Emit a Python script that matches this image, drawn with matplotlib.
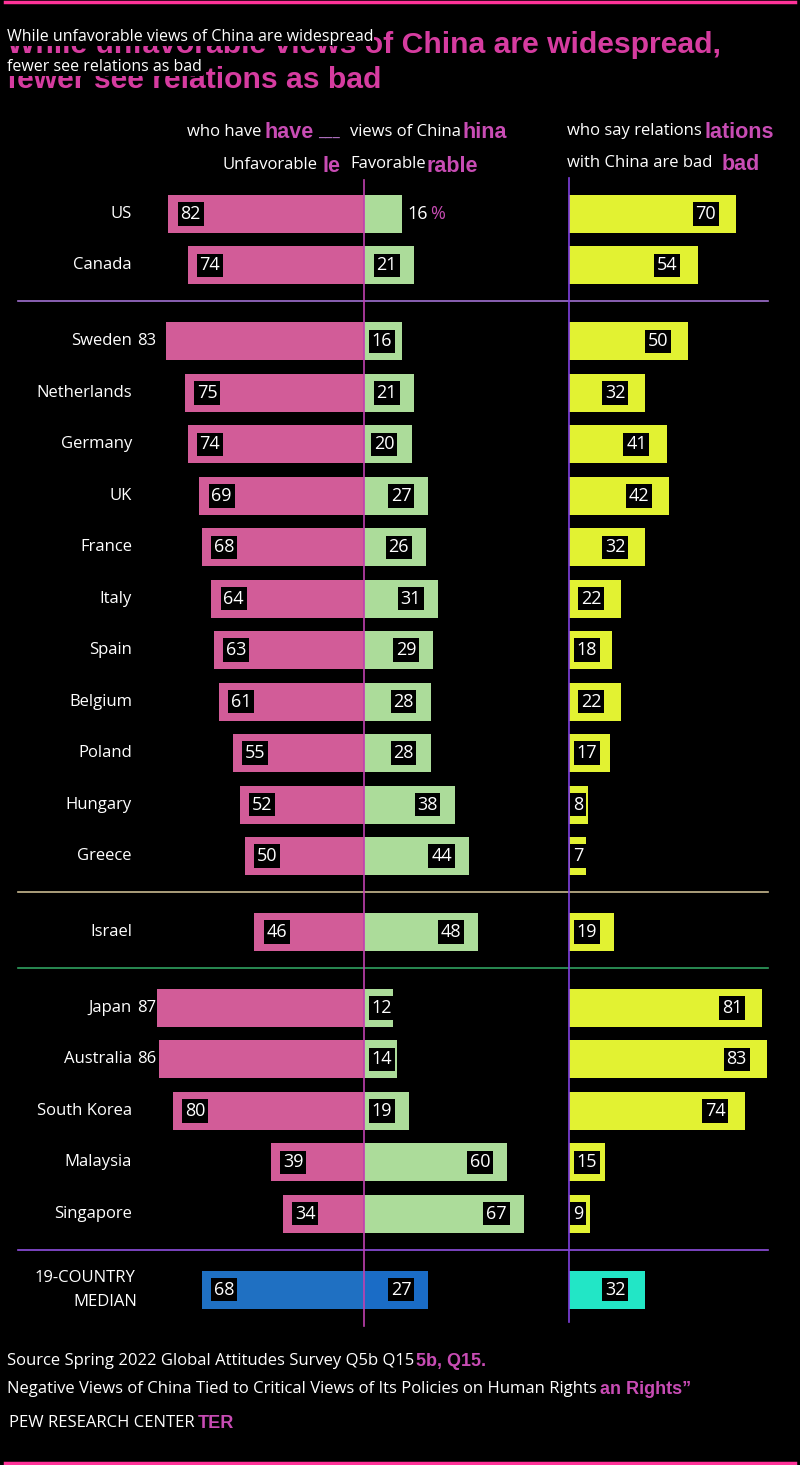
import matplotlib
matplotlib.use("Agg")
import matplotlib.pyplot as plt
from matplotlib import font_manager

# ---------------- data ----------------
countries = ["US", "Canada", "Sweden", "Netherlands", "Germany", "UK", "France",
             "Italy", "Spain", "Belgium", "Poland", "Hungary", "Greece", "Israel",
             "Japan", "Australia", "South Korea", "Malaysia", "Singapore"]
unfavorable = [82, 74, 83, 75, 74, 69, 68, 64, 63, 61, 55, 52, 50, 46, 87, 86, 80, 39, 34]
favorable = [16, 21, 16, 21, 20, 27, 26, 31, 29, 28, 28, 38, 44, 48, 12, 14, 19, 60, 67]
relations_bad = [70, 54, 50, 32, 41, 42, 32, 22, 18, 22, 17, 8, 7, 19, 81, 83, 74, 15, 9]
group_sizes = [2, 11, 1, 5]
median_label = ["19-COUNTRY", "MEDIAN"]
median_unfav = 68
median_fav = 27
median_rel = 32

title_lines = ["While unfavorable views of China are widespread,", "fewer see relations as bad"]
header_left = ["who have", "___", "views of China"]
header_unfav = "Unfavorable"
header_fav = "Favorable"
header_right = ["who say relations", "with China are bad"]
footer = ["Source Spring 2022 Global Attitudes Survey Q5b Q15",
          "Negative Views of China Tied to Critical Views of Its Policies on Human Rights",
          "PEW RESEARCH CENTER"]
ghost_texts = ["have", "hina", "le", "rable", "lations", "bad", "5b, Q15.", "an Rights\u201d", "TER"]

# ---------------- style ----------------
avail = {f.name for f in font_manager.fontManager.ttflist}
fam = [f for f in ["Open Sans", "DejaVu Sans"] if f in avail] + ["DejaVu Sans"]
plt.rcParams["font.family"] = fam
BOLD = ["Liberation Sans", "DejaVu Sans"]

W, H = 800, 1465
BG = "black"
C_UNF = "#d25c98"
C_FAV = "#acdc9a"
C_REL = "#e2f232"
C_MED_UNF = "#1f70c2"
C_MED_FAV = "#1a6cc6"
C_MED_REL = "#22e6c6"
C_GHOST = "#c84cb4"
C_TITLE = "#d63ca0"

S = 2.385          # pixels per percentage point
X0 = 364           # zero line (pixels)
REL0 = 569         # relations axis (pixels)
rel_off = (REL0 - X0) / S

fig = plt.figure(figsize=(W / 100, H / 100), dpi=100, facecolor=BG)
ax = fig.add_axes([0, 0, 1, 1], facecolor=BG)
ax.set_xlim(-X0 / S, (W - X0) / S)
ax.set_ylim(H, 0)
ax.axis("off")

px = fig.add_axes([0, 0, 1, 1], facecolor="none")
px.set_xlim(0, W)
px.set_ylim(H, 0)
px.axis("off")

# row positions
first_y, step, gap = 214, 51.45, 76
ys, seps = [], []
y = first_y
for n in group_sizes:
    for i in range(n):
        ys.append(y)
        if i < n - 1:
            y += step
    seps.append(y + gap / 2)
    y += gap
median_y = y

BH = 38
ax.barh(ys, [-v for v in unfavorable], height=BH, color=C_UNF, linewidth=0)
ax.barh(ys, favorable, height=BH, color=C_FAV, linewidth=0)
ax.barh(ys, relations_bad, left=rel_off, height=BH, color=C_REL, linewidth=0)
ax.barh([median_y], [-median_unfav], height=BH, color=C_MED_UNF, linewidth=0)
ax.barh([median_y], [median_fav], height=BH, color=C_MED_FAV, linewidth=0)
ax.barh([median_y], [median_rel], left=rel_off, height=BH, color=C_MED_REL, linewidth=0)

box = dict(boxstyle="square,pad=0.15", fc="black", ec="none")
tbox = dict(boxstyle="square,pad=0.05", fc="black", ec="none")
NUM_FS = 13
LAB_FS = 12


def labels_row(yy, u, f, r, first=False):
    if u >= 83:
        px.text(156, yy, str(u), color="white", fontsize=LAB_FS, ha="right", va="center")
    else:
        ax.text(-u + 12 / S, yy, str(u), color="white", fontsize=NUM_FS, ha="left", va="center", bbox=box)
    if first:
        ax.text(f + 5 / S, yy, f"{f}", color="white", fontsize=NUM_FS, ha="left", va="center")
        ax.text(f + 28 / S, yy, "%", color=C_GHOST, fontsize=NUM_FS, ha="left", va="center")
    else:
        rx = max(f - 17 / S, 28 / S)
        ax.text(rx, yy, str(f), color="white", fontsize=NUM_FS, ha="right", va="center", bbox=box)
    rr = max(r - 20 / S, (28 if r >= 10 else 14) / S)
    ax.text(rel_off + rr, yy, str(r), color="white", fontsize=NUM_FS, ha="right", va="center", bbox=box)


for i, c in enumerate(countries):
    yy = ys[i]
    px.text(132, yy, c, color="white", fontsize=LAB_FS, ha="right", va="center")
    labels_row(yy, unfavorable[i], favorable[i], relations_bad[i], first=(i == 0))

px.text(135, median_y - 12, median_label[0], color="white", fontsize=LAB_FS, ha="right", va="center")
px.text(137, median_y + 12, median_label[1], color="white", fontsize=LAB_FS, ha="right", va="center")
labels_row(median_y, median_unfav, median_fav, median_rel)

# separators
sep_colors = ["#a070d0", "#c8b890", "#2fa060", "#9050e0"]
for sy, sc in zip(seps, sep_colors):
    px.plot([18, 768], [sy - 2, sy - 2], color=sc, lw=1.2)

# vertical axes
px.plot([X0, X0], [180, 1326], color="#c040b0", lw=1.2, zorder=5)
px.plot([REL0, REL0], [178, 1322], color="#8040e0", lw=1.2, zorder=5)

# ghost fragments (bold, behind)
gkw = dict(color=C_GHOST, fontsize=15.5, fontweight="bold", family=BOLD, ha="left", va="center")
px.text(265, 132, ghost_texts[0], **gkw)
px.text(463, 132, ghost_texts[1], **gkw)
px.text(323, 166, ghost_texts[2], **gkw)
px.text(427, 166, ghost_texts[3], **gkw)
px.text(704, 132, ghost_texts[4], **gkw)
px.text(722, 164, ghost_texts[5], **gkw)
gkw2 = dict(gkw, fontsize=13)
px.text(416, 1361, ghost_texts[6], **gkw2)
px.text(600, 1389, ghost_texts[7], **gkw2)
px.text(198, 1423, ghost_texts[8], **gkw2)

# headers (white)
hk = dict(color="white", fontsize=LAB_FS, va="center", bbox=tbox)
px.text(187, 132, header_left[0], ha="left", **hk)
px.text(318, 133, header_left[1], ha="left", color="#b070c0", fontsize=LAB_FS, va="center")
px.text(350, 132, header_left[2], ha="left", **hk)
px.text(317, 165, header_unfav, ha="right", **hk)
px.text(350, 164, header_fav, ha="left", **hk)
px.text(567, 131, header_right[0], ha="left", **hk)
px.text(567, 163, header_right[1], ha="left", **hk)

# title: large pink, small white on top
px.text(7, 45, title_lines[0], color=C_TITLE, fontsize=21.7, fontweight="bold",
        family=BOLD, ha="left", va="center")
px.text(7, 80, title_lines[1], color=C_TITLE, fontsize=21.7, fontweight="bold",
        family=BOLD, ha="left", va="center")
px.text(7, 37, title_lines[0].rstrip(","), color="white", fontsize=11.5, ha="left", va="center", bbox=tbox)
px.text(7, 67, title_lines[1], color="white", fontsize=11.5, ha="left", va="center", bbox=tbox)

# footer
px.text(7, 1361, footer[0], color="white", fontsize=LAB_FS, ha="left", va="center", bbox=tbox)
px.text(7, 1389, footer[1], color="white", fontsize=LAB_FS, ha="left", va="center", bbox=tbox)
px.text(9, 1423, footer[2], color="white", fontsize=LAB_FS, ha="left", va="center", bbox=tbox)

# top/bottom rules
px.plot([5, 795], [2, 2], color="#ff3399", lw=2.5)
px.plot([5, 795], [1463, 1463], color="#ff3399", lw=2.5)

fig.savefig("out.png", dpi=100, facecolor=BG)
